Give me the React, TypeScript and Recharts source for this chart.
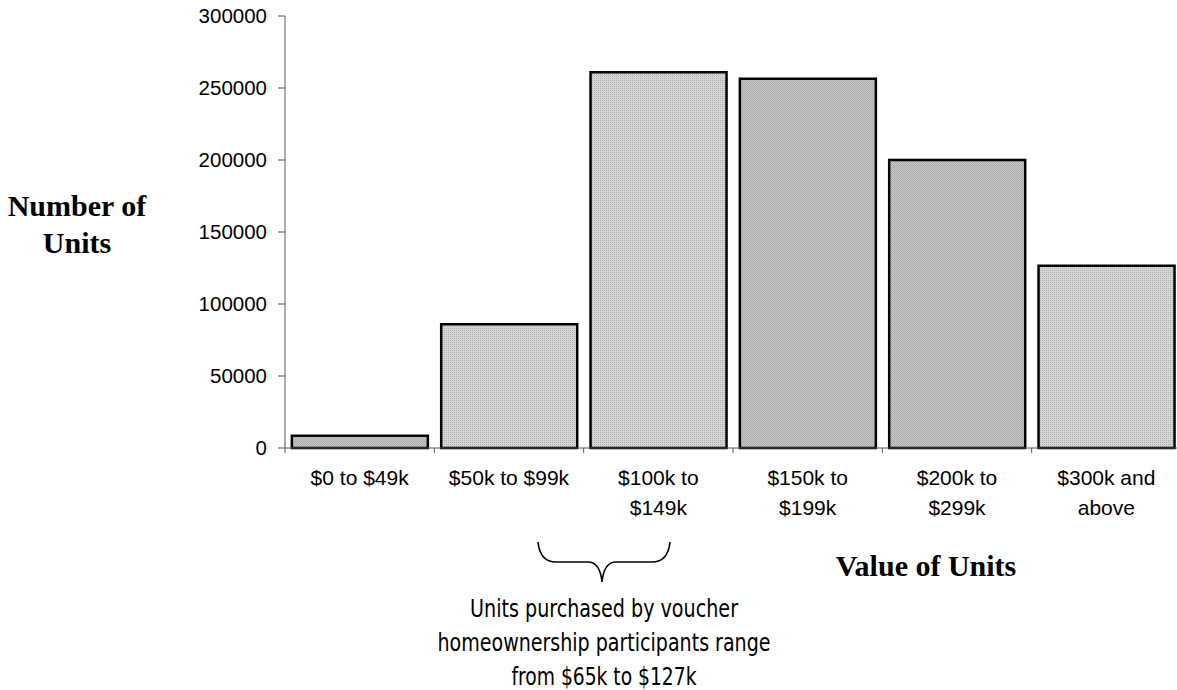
import React from 'react';
import { BarChart, Bar, XAxis, YAxis, Cell } from 'recharts';

const categories = ['$0 to $49k', '$50k to $99k', '$100k to $149k', '$150k to $199k', '$200k to $299k', '$300k and above'];
const tickLabelLines = [
  ['$0 to $49k'],
  ['$50k to $99k'],
  ['$100k to', '$149k'],
  ['$150k to', '$199k'],
  ['$200k to', '$299k'],
  ['$300k and', 'above'],
];
const units = [8500, 86000, 261000, 256500, 200000, 126500];
const barFills = ['url(#dotDark)', 'url(#dotLight)', 'url(#dotLight)', 'url(#dotDark)', 'url(#dotDark)', 'url(#dotLight)'];
const yTicks = [0, 50000, 100000, 150000, 200000, 250000, 300000];
const yTitleLines = ['Number of', 'Units'];
const xTitle = 'Value of Units';
const noteLines = ['Units purchased by voucher', 'homeownership participants range', 'from $65k to $127k'];
const noteWidths = [268, 333, 185];

const data = categories.map((c, i) => ({ category: c, units: units[i] }));

const SANS = "'Liberation Sans', Arial, sans-serif";
const SERIF = "'Liberation Serif', 'Times New Roman', serif";
const NARROW = "'Liberation Sans Narrow', 'Arial Narrow', 'DejaVu Sans Condensed', sans-serif";
const AXIS = '#555555';

const XTick = (props: any) => {
  const { x, y, payload } = props;
  const idx = categories.indexOf(payload.value);
  const half = typeof payload.offset === 'number' && payload.offset > 0 ? payload.offset : 74.65;
  const lines = tickLabelLines[idx] || [payload.value];
  return (
    <g>
      <line x1={x - half} y1={y} x2={x - half} y2={y + 5} stroke={AXIS} strokeWidth={1} />
      {idx === categories.length - 1 && (
        <line x1={x + half} y1={y} x2={x + half} y2={y + 5} stroke={AXIS} strokeWidth={1} />
      )}
      {lines.map((ln, i) => (
        <text key={i} x={x} y={y + 37 + i * 29.5} textAnchor="middle" fontSize={21} fontFamily={SANS} fill="#000">
          {ln}
        </text>
      ))}
    </g>
  );
};

export default function App() {
  return (
    <div style={{ position: 'absolute', left: 0, top: 0, width: 1177, height: 690, overflow: 'hidden', background: '#fff', fontFamily: SANS }}>
      <svg width={0} height={0} style={{ position: 'absolute' }}>
        <defs>
          <pattern id="dotLight" x={0} y={0} width={2} height={2} patternUnits="userSpaceOnUse">
            <rect x={0} y={0} width={2} height={2} fill="#d6d6d6" />
            <rect x={0} y={0} width={1} height={1} fill="#b2b2b2" />
          </pattern>
          <pattern id="dotDark" x={0} y={0} width={2} height={2} patternUnits="userSpaceOnUse">
            <rect x={0} y={0} width={2} height={2} fill="#c6c6c6" />
            <rect x={0} y={0} width={1} height={1} fill="#a8a8a8" />
            <rect x={1} y={1} width={1} height={1} fill="#b0b0b0" />
          </pattern>
        </defs>
      </svg>
      <BarChart
        width={1181}
        height={690}
        data={data}
        margin={{ top: 16, right: 0, bottom: 0, left: 0 }}
        barCategoryGap="4.6%"
      >
        <XAxis
          dataKey="category"
          height={242}
          interval={0}
          tickLine={false}
          tickSize={0}
          tickMargin={0}
          axisLine={{ stroke: AXIS, strokeWidth: 1 }}
          tick={<XTick />}
        />
        <YAxis
          width={285}
          domain={[0, 300000]}
          ticks={yTicks}
          interval={0}
          tickSize={7}
          tickMargin={11}
          axisLine={{ stroke: AXIS, strokeWidth: 1 }}
          tickLine={{ stroke: AXIS, strokeWidth: 1 }}
          tick={{ fill: '#000', fontSize: 20.5, fontFamily: SANS }}
        />
        <Bar dataKey="units" stroke="#000" strokeWidth={2.5} isAnimationActive={false}>
          {data.map((d, i) => (
            <Cell key={d.category} fill={barFills[i]} />
          ))}
        </Bar>
      </BarChart>
      <svg width={1177} height={690} style={{ position: 'absolute', left: 0, top: 0, pointerEvents: 'none' }}>
        {yTitleLines.map((ln, i) => (
          <text key={i} x={77} y={216 + i * 37} textAnchor="middle" fontSize={30} fontWeight="bold" fontFamily={SERIF} fill="#000">
            {ln}
          </text>
        ))}
        <text x={926} y={576} textAnchor="middle" fontSize={30} fontWeight="bold" fontFamily={SERIF} fill="#000">
          {xTitle}
        </text>
        <path
          d="M538,542 Q540,562 556,562 L588,562 Q600,562 602,582 Q604,562 616,562 L652,562 Q668,562 670,542"
          fill="none"
          stroke="#000"
          strokeWidth={1.6}
        />
        {noteLines.map((ln, i) => (
          <text
            key={i}
            x={604}
            y={617 + i * 34}
            textAnchor="middle"
            fontSize={24}
            fontFamily={NARROW}
            fill="#000"
            textLength={noteWidths[i]}
            lengthAdjust="spacingAndGlyphs"
          >
            {ln}
          </text>
        ))}
      </svg>
    </div>
  );
}
